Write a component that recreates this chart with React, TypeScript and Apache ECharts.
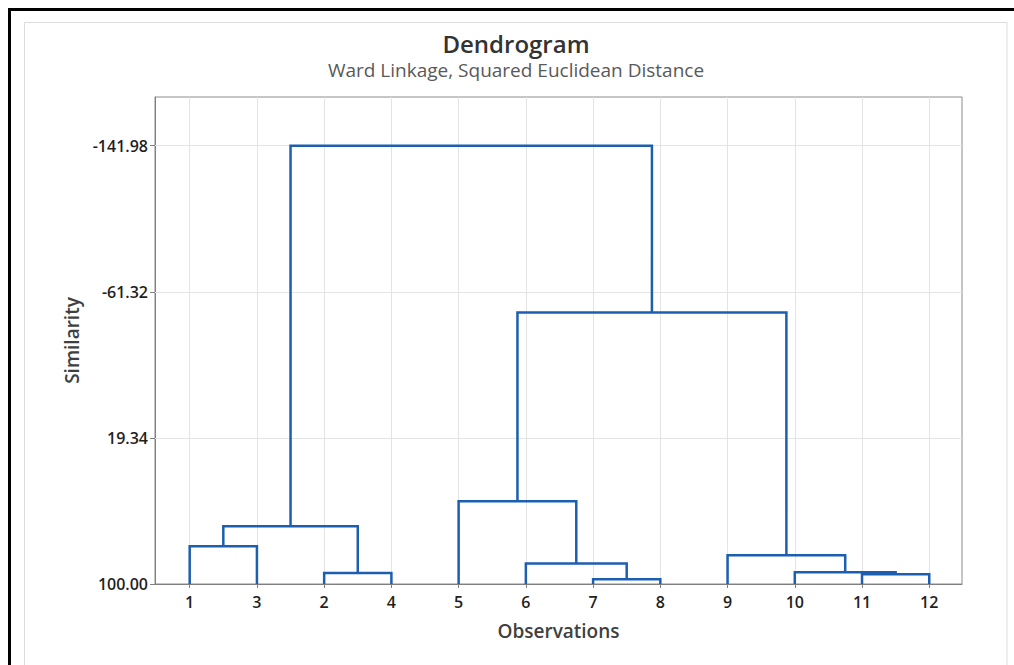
import React, { useEffect, useRef } from "react";
import * as echarts from "echarts";

// Leaf labels in the order they appear along the x axis
const leafOrder = ["1", "3", "2", "4", "5", "6", "7", "8", "9", "10", "11", "12"];
// Merge steps: children are leaf positions (0..11) or earlier clusters (12 + step index)
const mergeLeft = [6, 10, 2, 9, 5, 8, 0, 18, 4, 20, 19];
const mergeRight = [7, 11, 3, 13, 12, 15, 1, 14, 16, 17, 21];
const mergeSimilarity = [97.4, 94.64, 93.92, 93.54, 88.73, 84.14, 79.17, 68.1, 54.3, -49.94, -141.98];
const leafSimilarity = 100;
// Y axis ticks (similarity)
const yTicks = [100, 19.34, -61.32, -141.98];
const yMin = -168.87;
const yMax = 100;

const TEXT_FONT = "'Open Sans', 'Noto Sans', sans-serif";
const LINE_COLOR = "#1c5fb0";

function buildSeries() {
  const nodeX: number[] = leafOrder.map((_, i) => i + 1);
  const nodeH: number[] = leafOrder.map(() => leafSimilarity);
  const series: any[] = [];
  mergeLeft.forEach((l, k) => {
    const r = mergeRight[k];
    const h = mergeSimilarity[k];
    const xl = nodeX[l];
    const xr = nodeX[r];
    series.push({
      type: "line",
      data: [
        [xl, nodeH[l]],
        [xl, h],
        [xr, h],
        [xr, nodeH[r]],
      ],
      symbol: "none",
      silent: true,
      z: 5,
      lineStyle: { color: LINE_COLOR, width: 2.5, join: "miter", cap: "butt" },
    });
    nodeX.push((xl + xr) / 2);
    nodeH.push(h);
  });
  // grid lines helper
  series.push({
    type: "line",
    data: [],
    z: 1,
    markLine: {
      silent: true,
      symbol: "none",
      label: { show: false },
      lineStyle: { color: "#e4e4e4", width: 1, type: "solid" },
      data: [
        ...yTicks.slice(1).map((v) => ({ yAxis: v })),
        ...leafOrder.map((_, i) => ({ xAxis: i + 1 })),
      ],
    },
  });
  return series;
}

export default function App() {
  const ref = useRef<HTMLDivElement>(null);
  useEffect(() => {
    if (!ref.current) return;
    const chart = echarts.init(ref.current, undefined, { renderer: "svg" });
    const positions = leafOrder.map((_, i) => i + 1);
    chart.setOption({
      animation: false,
      backgroundColor: "#ffffff",
      textStyle: { fontFamily: TEXT_FONT },
      grid: {
        left: 155,
        top: 97,
        width: 807,
        height: 487,
        show: true,
        borderColor: "#8c8c8c",
        borderWidth: 1,
        backgroundColor: "transparent",
        containLabel: false,
      },
      xAxis: {
        type: "value",
        min: 0.484,
        max: 12.487,
        name: "Observations",
        nameLocation: "middle",
        nameGap: 37,
        nameTextStyle: { fontSize: 19, color: "#404040", fontFamily: TEXT_FONT, fontWeight: 600 },
        axisLine: { show: true, onZero: false, lineStyle: { color: "#7f7f7f", width: 1 } },
        axisTick: { show: true, length: 4, customValues: positions, lineStyle: { color: "#7f7f7f" } },
        axisLabel: {
          customValues: positions,
          formatter: (v: number) => leafOrder[Math.round(v) - 1],
          fontSize: 16,
          fontWeight: 600,
          color: "#1f1f1f",
          margin: 10,
          fontFamily: TEXT_FONT,
        },
        splitLine: { show: false },
      },
      yAxis: {
        type: "value",
        inverse: true,
        min: yMin,
        max: yMax,
        name: "Similarity",
        nameLocation: "middle",
        nameGap: 73,
        nameTextStyle: { fontSize: 19, color: "#404040", fontFamily: TEXT_FONT, fontWeight: 600 },
        axisLine: { show: true, lineStyle: { color: "#7f7f7f", width: 1 } },
        axisTick: { show: true, length: 5, customValues: yTicks, lineStyle: { color: "#7f7f7f" } },
        axisLabel: {
          customValues: yTicks,
          formatter: (v: number) => v.toFixed(2),
          fontSize: 16,
          fontWeight: 600,
          color: "#1f1f1f",
          margin: 7,
          fontFamily: TEXT_FONT,
        },
        splitLine: { show: false },
      },
      graphic: [
        { type: "rect", shape: { x: 24.5, y: 22.5, width: 982.5, height: 700 }, style: { fill: "none", stroke: "#dcdcdc", lineWidth: 1 }, silent: true },
        { type: "rect", shape: { x: 8, y: 8, width: 1006, height: 3 }, style: { fill: "#000000" }, silent: true },
        { type: "rect", shape: { x: 8, y: 8, width: 3, height: 657 }, style: { fill: "#000000" }, silent: true },
        {
          type: "text",
          x: 516,
          y: 43,
          style: {
            text: "Dendrogram",
            fontSize: 24,
            fontWeight: 600,
            fill: "#333333",
            fontFamily: TEXT_FONT,
            textAlign: "center",
            textVerticalAlign: "middle",
          },
        },
        {
          type: "text",
          x: 516,
          y: 70,
          style: {
            text: "Ward Linkage, Squared Euclidean Distance",
            fontSize: 19,
            fill: "#595959",
            fontFamily: TEXT_FONT,
            textAlign: "center",
            textVerticalAlign: "middle",
          },
        },
      ],
      series: buildSeries(),
    });
    return () => chart.dispose();
  }, []);
  return (
    <div
      ref={ref}
      style={{ position: "fixed", left: 0, top: 0, width: 1014, height: 665 }}
    />
  );
}
